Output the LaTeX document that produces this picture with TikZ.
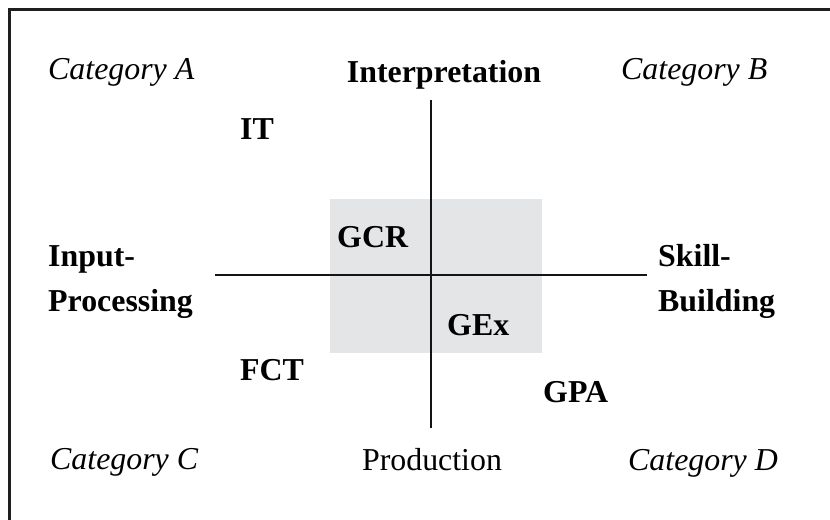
\documentclass[tikz,border=0pt]{standalone}
\usepackage{fontspec}
\setmainfont{Liberation Serif}
\usepackage{tikz}
\usetikzlibrary{positioning}
\definecolor{boxgray}{RGB}{228,229,231}

\begin{document}
\begin{tikzpicture}[x=1bp, y=-1bp,
		cat/.style={inner sep=0pt, anchor=base west, font=\fontsize{32}{38}\selectfont\itshape},
		pole/.style={inner sep=0pt, anchor=base west, font=\fontsize{32}{38}\selectfont\bfseries},
		mylabel/.style={inner sep=0pt, anchor=base west, font=\fontsize{32}{38}\selectfont\bfseries},
		axis/.style={line width=2.8bp, black!92},
		frame/.style={line width=3bp, black!88}
		]
		\useasboundingbox (0,0) rectangle (830,520);
		\clip (0,0) rectangle (830,520);
		\draw[frame] (9.5,540) -- (9.5,10) -- (850,10);
		
		\fill[boxgray] (330,199) rectangle (542,353);
		
		\coordinate (top) at (431,100);
		\coordinate (bottom) at (431,428);
		\coordinate (left) at (215,275);
		\coordinate (right) at (647,275);
		\draw[axis] (top) -- (bottom);
		\draw[axis] (left) -- (right);
		
		\node[cat] (catA) at (48,80) {Category A};
		\node[cat] (catB) at (621,80) {Category B};
		\node[cat] (catC) at (50,469) {Category C};
		\node[cat] (catD) at (628,470) {Category D};
		
		\node[pole, anchor=base] (interp) at (444,83) {Interpretation};
		\node[inner sep=0pt, anchor=base, font=\fontsize{32}{38}\selectfont] (prod) at (432,470) {Production};
		\node[pole] (inp1) at (48,267) {Input-};
		\node[pole] (inp2) at (48,312) {Processing};
		\node[pole] (skill1) at (658,267) {Skill-};
		\node[pole] (skill2) at (658,312) {Building};
		
		\node[mylabel] (it) at (240,140) {IT};
		\node[mylabel] (gcr) at (337,248) {GCR};
		\node[mylabel] (gex) at (447,335) {GEx};
		\node[mylabel] (fct) at (240,380) {FCT};
		\node[mylabel] (gpa) at (543,402) {GPA};
\end{tikzpicture}
\end{document}
